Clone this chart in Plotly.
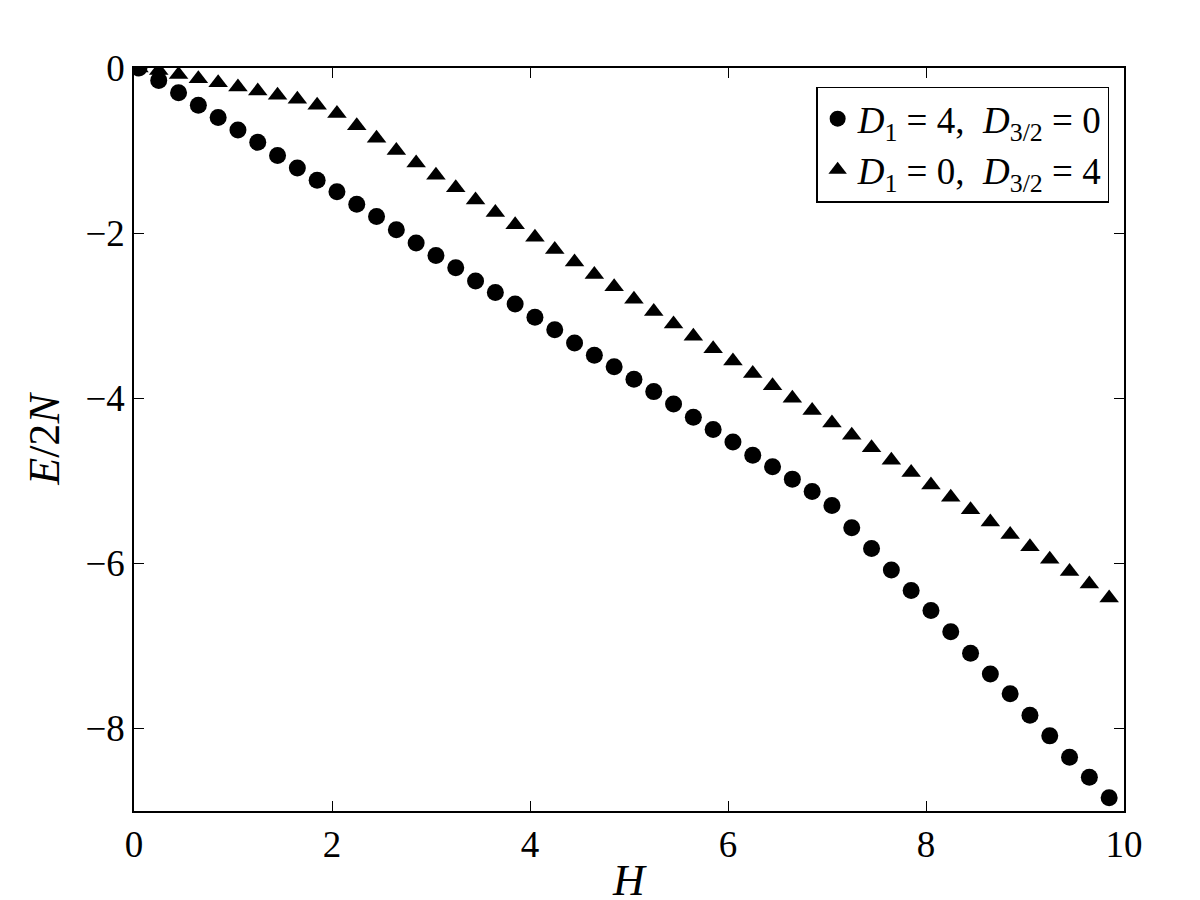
import plotly.graph_objects as go

H = [round(0.05 + 0.2*k, 2) for k in range(50)]
E_circ = [0, -0.15, -0.3, -0.45, -0.6, -0.75, -0.9, -1.06, -1.21, -1.36,
          -1.5, -1.65, -1.8, -1.96, -2.12, -2.27, -2.42, -2.58, -2.72, -2.86,
          -3.02, -3.17, -3.33, -3.48, -3.62, -3.77, -3.92, -4.07, -4.23, -4.38,
          -4.53, -4.69, -4.83, -4.98, -5.13, -5.3, -5.57, -5.82, -6.08, -6.33,
          -6.57, -6.83, -7.09, -7.34, -7.58, -7.84, -8.09, -8.35, -8.59, -8.84]
E_tri = [0, -0.03, -0.08, -0.13, -0.18, -0.23, -0.28, -0.33, -0.38, -0.45,
         -0.55, -0.7, -0.85, -1.0, -1.15, -1.3, -1.45, -1.6, -1.75, -1.9,
         -2.05, -2.2, -2.35, -2.5, -2.65, -2.8, -2.95, -3.1, -3.25, -3.4,
         -3.55, -3.7, -3.85, -4.0, -4.15, -4.3, -4.45, -4.6, -4.75, -4.9,
         -5.05, -5.2, -5.35, -5.5, -5.65, -5.8, -5.95, -6.1, -6.25, -6.42]
label1 = "<i>D</i><sub>1</sub> = 4,  <i>D</i><sub>3/2</sub> = 0"
label2 = "<i>D</i><sub>1</sub> = 0,  <i>D</i><sub>3/2</sub> = 4"

fig = go.Figure()
fig.add_trace(go.Scatter(x=H, y=E_circ, mode="markers", name=label1,
                         marker=dict(symbol="circle", size=17, color="black")))
fig.add_trace(go.Scatter(x=H, y=E_tri, mode="markers", name=label2,
                         marker=dict(symbol="triangle-up", size=17, color="black")))
ax = dict(showgrid=False, zeroline=False, showline=True, linecolor="black",
          linewidth=1.5, mirror="ticks", ticks="inside", ticklen=10,
          tickcolor="black")
fig.update_layout(
    width=1200, height=900, plot_bgcolor="white", paper_bgcolor="white",
    margin=dict(l=126, r=84, t=60, b=94),
    font=dict(family="Liberation Serif", size=37, color="black"),
    xaxis=dict(range=[0, 10], dtick=2, title=dict(text="<i>H</i>", standoff=0), **ax),
    yaxis=dict(range=[-9, 0], dtick=2, title=dict(text="<i>E</i>/2<i>N</i>", standoff=12), **ax),
    legend=dict(x=0.985, y=0.975, xanchor="right", yanchor="top",
                bordercolor="black", borderwidth=1.5, bgcolor="white",
                font=dict(size=37)),
    showlegend=True,
)
fig.write_html("out.html")
